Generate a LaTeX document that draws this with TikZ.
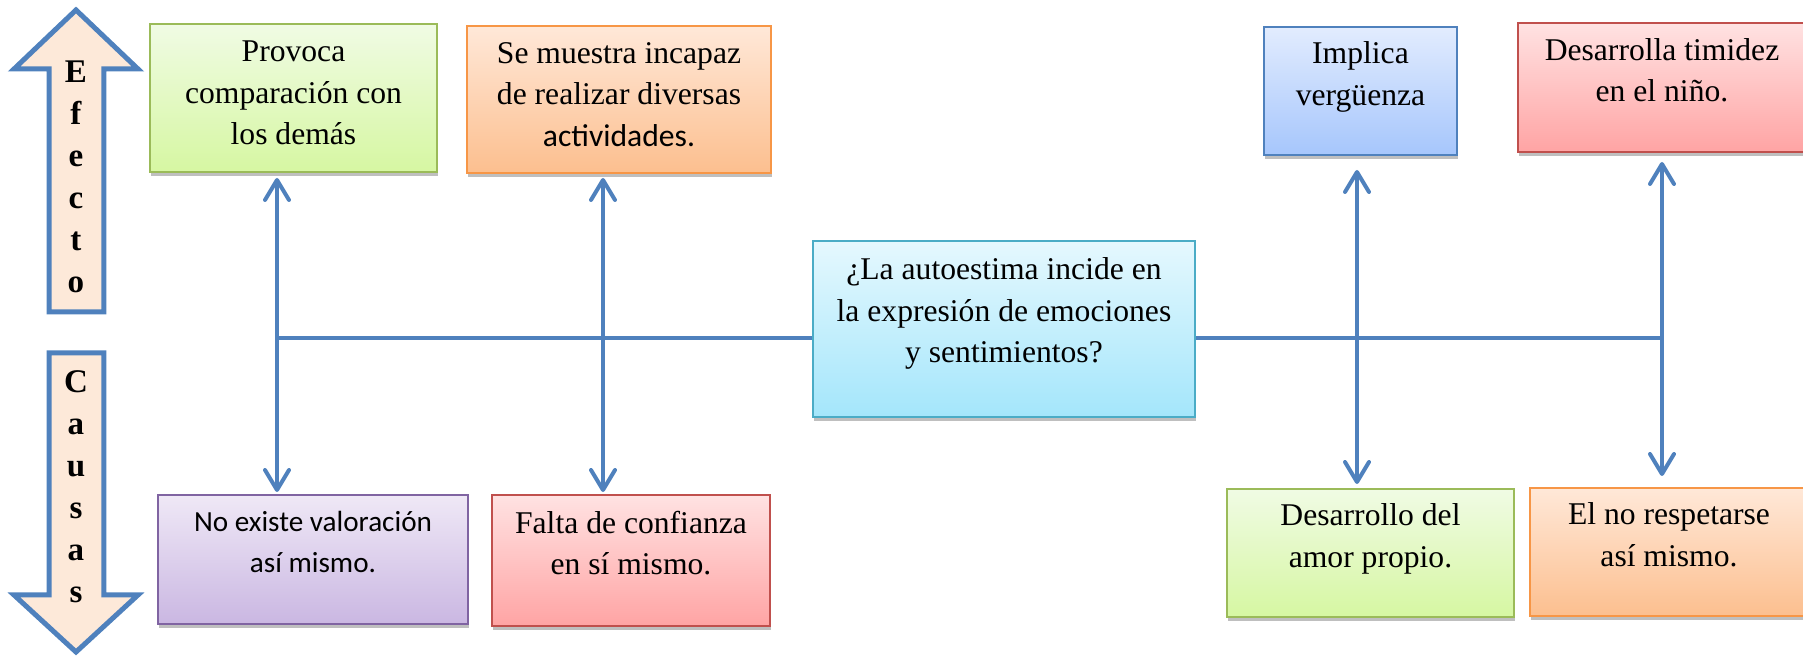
\documentclass[tikz,border=0pt]{standalone}
\usepackage{fontspec}
\setmainfont{Liberation Serif}
\newfontfamily\calibri{Carlito}
\usetikzlibrary{arrows.meta,shadows}

\definecolor{flechaazul}{HTML}{4F81BD}
\definecolor{durazno}{HTML}{FDE9D9}
\definecolor{verdeborde}{HTML}{9BBB59}
\definecolor{verdearriba}{HTML}{F0FBE4}
\definecolor{verdeabajo}{HTML}{D6F7A2}
\definecolor{naranjaborde}{HTML}{F79646}
\definecolor{naranjaarriba}{HTML}{FFE8D8}
\definecolor{naranjaabajo}{HTML}{FCBF8F}
\definecolor{moradoborde}{HTML}{8064A2}
\definecolor{moradoarriba}{HTML}{EFE8F6}
\definecolor{moradoabajo}{HTML}{CAB7E2}
\definecolor{rojoborde}{HTML}{C0504D}
\definecolor{rojoarriba}{HTML}{FFE2E2}
\definecolor{rojoabajo}{HTML}{FFA4A4}
\definecolor{azulborde}{HTML}{4F81BD}
\definecolor{azularriba}{HTML}{E2ECFE}
\definecolor{azulabajo}{HTML}{A6C6FC}
\definecolor{cianborde}{HTML}{4BACC6}
\definecolor{cianarriba}{HTML}{E5F8FE}
\definecolor{cianabajo}{HTML}{A4E6FB}

\newcommand{\bajo}[1][0.35cm]{\rule[-#1]{0pt}{0pt}}

\tikzset{
  caja/.style={draw, line width=0.02cm, align=center, inner sep=0pt,
    font=\fontsize{9}{11.8}\selectfont,
    drop shadow={shadow xshift=0.01cm, shadow yshift=-0.04cm, fill=black, opacity=0.25}},
  verde/.style={caja, draw=verdeborde, top color=verdearriba, bottom color=verdeabajo},
  naranja/.style={caja, draw=naranjaborde, top color=naranjaarriba, bottom color=naranjaabajo},
  morado/.style={caja, draw=moradoborde, top color=moradoarriba, bottom color=moradoabajo},
  rojo/.style={caja, draw=rojoborde, top color=rojoarriba, bottom color=rojoabajo},
  azul/.style={caja, draw=azulborde, top color=azularriba, bottom color=azulabajo},
  cian/.style={caja, draw=cianborde, top color=cianarriba, bottom color=cianabajo},
  linea/.style={draw=flechaazul, line width=0.04cm},
  doble/.style={linea, >={Straight Barb[length=0.2cm,width=0.24cm,round]}, <->},
  grande/.style={draw=flechaazul, fill=durazno, line width=0.05cm},
  letras/.style={align=center, inner sep=0pt, font=\bfseries\fontsize{9.4}{11.95}\selectfont}
}

\begin{document}
\begin{tikzpicture}
    \useasboundingbox (0,0) rectangle (18.03,6.58);
    % flechas grandes
    \draw[grande] (0.76,6.48) -- (1.38,5.89) -- (1.04,5.89) -- (1.04,3.46)
        -- (0.49,3.46) -- (0.49,5.89) -- (0.14,5.89) -- cycle;
    \node[letras] (efecto) at (0.76,4.815) {E\\f\\e\\c\\t\\o};
    \draw[grande] (0.49,3.05) -- (1.04,3.05) -- (1.04,0.63) -- (1.38,0.63)
        -- (0.76,0.06) -- (0.14,0.63) -- (0.49,0.63) -- cycle;
    \node[letras] (causas) at (0.76,1.715) {C\\a\\u\\s\\a\\s};

    % efectos
    \node[verde, minimum width=2.87cm, minimum height=1.48cm] (prov) at (2.935,5.60)
        {Provoca\\comparación con\\los demás\bajo[0.1cm]};
    \node[naranja, minimum width=3.04cm, minimum height=1.47cm] (inca) at (6.19,5.585)
        {Se muestra incapaz\\de realizar diversas\\{\calibri actividades.}\bajo[0.1cm]};
    \node[azul, minimum width=1.93cm, minimum height=1.28cm] (verg) at (13.605,5.67)
        {Implica\\vergüenza\bajo};
    \node[rojo, minimum width=2.88cm, minimum height=1.29cm] (timi) at (16.62,5.705)
        {Desarrolla timidez\\en el niño.\bajo};

    % problema
    \node[cian, minimum width=3.82cm, minimum height=1.76cm] (preg) at (10.04,3.29)
        {¿La autoestima incide en\\la expresión de emociones\\y sentimientos?\bajo[0.37cm]};

    % causas
    \node[morado, minimum width=3.10cm, minimum height=1.29cm,
        font=\calibri\fontsize{8.3}{11.5}\selectfont] (valo) at (3.13,0.985)
        {No existe valoración\\así mismo.\bajo};
    \node[rojo, minimum width=2.78cm, minimum height=1.31cm] (conf) at (6.31,0.975)
        {Falta de confianza\\en sí mismo.\bajo};
    \node[verde, minimum width=2.87cm, minimum height=1.28cm] (amor) at (13.705,1.05)
        {Desarrollo del\\amor propio.\bajo};
    \node[naranja, minimum width=2.78cm, minimum height=1.28cm] (resp) at (16.69,1.06)
        {El no respetarse\\así mismo.\bajo};

    \coordinate (j1) at (2.77,3.20);
    \coordinate (j2) at (6.03,3.20);
    \coordinate (j3) at (13.57,3.20);
    \coordinate (j4) at (16.62,3.20);
    \draw[linea] (j1) -- (preg.west |- j1);
    \draw[linea] (preg.east |- j1) -- (j4);
    \draw[doble] ([yshift=-0.05cm]prov.south -| j1) -- ([yshift=0.02cm]valo.north -| j1);
    \draw[doble] ([yshift=-0.04cm]inca.south -| j2) -- ([yshift=0.02cm]conf.north -| j2);
    \draw[doble] ([yshift=-0.14cm]verg.south -| j3) -- ([yshift=0.04cm]amor.north -| j3);
    \draw[doble] ([yshift=-0.09cm]timi.south -| j4) -- ([yshift=0.11cm]resp.north -| j4);
\end{tikzpicture}
\end{document}
